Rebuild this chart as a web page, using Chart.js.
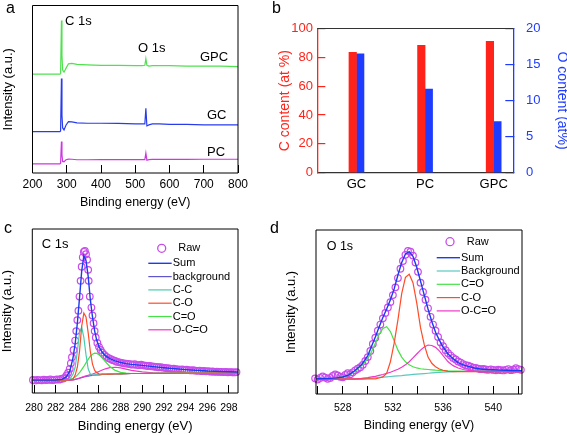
<!DOCTYPE html>
<html>
<head>
<meta charset="utf-8">
<script src="https://cdn.jsdelivr.net/npm/chart.js@4.4.1/dist/chart.umd.min.js"></script>
<style>
  html, body { margin: 0; padding: 0; background: #fff; }
  #fig { position: relative; width: 567px; height: 435px; overflow: hidden; font-family: "Liberation Sans", Arial, sans-serif; }
  #fig canvas { position: absolute; }
  .tag { position: absolute; font-size: 16px; line-height: 16px; color: #000; }
</style>
</head>
<body>
<div id="fig">
  <canvas id="survey" width="283" height="215" style="left:0px;top:0px"></canvas>
  <canvas id="content" width="291" height="215" style="left:276px;top:0px"></canvas>
  <canvas id="c1s" width="283" height="220" style="left:0px;top:215px"></canvas>
  <canvas id="o1s" width="291" height="220" style="left:276px;top:215px"></canvas>
  <div class="tag" style="left:6px;top:0px">a</div>
  <div class="tag" style="left:272px;top:0px">b</div>
  <div class="tag" style="left:4px;top:220px">c</div>
  <div class="tag" style="left:270px;top:220px">d</div>
</div>
<script>
const FONT = '"Liberation Sans", Arial, sans-serif';

// ---- a: survey spectra ----
const surveyEnergy = [200, 240, 280, 282, 284.5, 286, 288, 292, 298, 305, 315, 330, 360, 400, 450, 500, 520, 528, 531, 534, 540, 550, 570, 600, 650, 700, 750, 800];
const surveyGPC = [59.0, 59.0, 59.0, 59.3, 91.1, 70.3, 61.4, 60.2, 62.6, 65.2, 65.5, 64.9, 64.6, 64.3, 64.3, 64.1, 64.1, 64.3, 68.3, 64.3, 63.8, 64.1, 64.1, 64.1, 63.8, 63.8, 63.8, 63.5];
const surveyGC = [24.7, 24.7, 24.7, 25.1, 56.4, 34.6, 26.9, 25.7, 28.7, 30.7, 30.5, 29.9, 29.7, 29.7, 29.6, 29.3, 29.3, 29.3, 38.6, 28.1, 28.7, 29.3, 29.3, 29.0, 29.0, 28.7, 28.7, 28.7];
const surveyPC = [5.5, 5.5, 5.5, 5.8, 18.8, 10.9, 6.9, 6.7, 7.9, 8.3, 8.2, 7.9, 7.9, 8.0, 8.0, 8.0, 8.0, 8.0, 11.9, 7.6, 8.0, 8.1, 8.1, 8.1, 8.1, 8.2, 8.2, 8.2];
const surveyTicks = [200, 300, 400, 500, 600, 700, 800];

// ---- b: element content ----
const samples = ['GC', 'PC', 'GPC'];
const carbonContent = [83.5, 88.3, 91.1];
const oxygenContent = [16.5, 11.6, 7.1];

// ---- c: C 1s fit ----
const c1sTicks = [280, 282, 284, 286, 288, 290, 292, 294, 296, 298];
const c1sFitE = [279.9, 281, 282, 282.6, 283.0, 283.3, 283.6, 283.8, 284.0, 284.2, 284.4, 284.6, 284.8, 285.0, 285.2, 285.4, 285.6, 285.8, 286.0, 286.3, 286.6, 287.0, 287.5, 288.0, 288.5, 289.0, 290, 291, 292, 294, 296, 298.8];
const c1sSum = [3.8, 3.8, 3.9, 4.3, 6.0, 9.5, 18, 27, 40, 56, 73, 83, 80, 70, 55, 44, 35, 29, 25, 21.5, 19.2, 17.5, 16, 15, 14.3, 13.8, 13.2, 12.4, 11.7, 10.5, 9.6, 9.0];
const c1sBackground = [3.8, 3.8, 3.8, 3.8, 3.8, 3.8, 4.0, 4.3, 4.6, 5.0, 5.4, 5.8, 6.1, 6.4, 6.6, 6.8, 7.0, 7.1, 7.2, 7.4, 7.5, 7.6, 7.7, 7.8, 7.9, 8.0, 8.0, 8.1, 8.1, 8.2, 8.3, 8.4];
const c1sCC = [3.8, 3.8, 3.8, 3.8, 3.9, 4.4, 7.5, 12, 22, 34, 37.5, 31, 20, 11, 7.6, 6.9, 7.0, 7.1, 7.2, 7.4, 7.5, 7.6, 7.7, 7.8, 7.9, 8.0, 8.0, 8.1, 8.1, 8.2, 8.3, 8.4];
const c1sCO = [3.8, 3.8, 3.8, 3.8, 3.8, 3.9, 4.5, 7, 12, 22, 38, 46.5, 44, 34, 22, 14, 10, 8.5, 7.8, 7.6, 7.6, 7.6, 7.7, 7.8, 7.9, 8.0, 8.0, 8.1, 8.1, 8.2, 8.3, 8.4];
const c1sCdO = [3.8, 3.8, 3.8, 3.8, 3.9, 4.2, 5.0, 5.8, 7.0, 8.5, 10.5, 12.5, 14.8, 17, 19, 20.3, 21, 20.8, 20, 18, 15.5, 12.5, 10, 8.7, 8.2, 8.0, 8.0, 8.1, 8.1, 8.2, 8.3, 8.4];
const c1sOCdO = [3.8, 3.8, 3.8, 3.8, 3.8, 3.8, 4.0, 4.3, 4.7, 5.1, 5.6, 6.0, 6.5, 6.9, 7.3, 7.7, 8.2, 8.7, 9.3, 10.2, 11, 11.7, 12, 11.6, 10.8, 10, 9, 8.5, 8.3, 8.2, 8.3, 8.4];
const c1sRaw = [
  [279.9, 3.9], [280.1, 3.6], [280.3, 4.0], [280.5, 3.8], [280.7, 3.7], [280.9, 4.1], [281.1, 3.8], [281.3, 3.9],
  [281.5, 4.2], [281.7, 3.8], [281.9, 4.0], [282.1, 4.3], [282.3, 4.1], [282.5, 4.5], [282.7, 4.9], [282.9, 5.6],
  [283.0, 6.8], [283.15, 8.5], [283.3, 11], [283.4, 14.5], [283.5, 18.4], [283.65, 23], [283.8, 29], [283.9, 35],
  [284.0, 42], [284.1, 48], [284.2, 57], [284.3, 67], [284.4, 76], [284.5, 82], [284.6, 85.5], [284.7, 86],
  [284.8, 84], [284.9, 80.5], [285.0, 74], [285.05, 67], [285.15, 57], [285.3, 50], [285.4, 45], [285.5, 40],
  [285.6, 35], [285.7, 31], [285.85, 27.5], [286.0, 25], [286.15, 23], [286.3, 21.3], [286.5, 19.8], [286.7, 18.6],
  [286.9, 17.8], [287.1, 17.1], [287.3, 16.5], [287.5, 16.0], [287.7, 15.4], [287.9, 15.1], [288.1, 14.8], [288.3, 14.5],
  [288.5, 14.3], [288.7, 14.2], [288.9, 13.9], [289.1, 13.6], [289.3, 13.9], [289.5, 13.5], [289.7, 13.3], [289.9, 13.6],
  [290.1, 13.2], [290.3, 13.0], [290.5, 12.8], [290.7, 12.9], [290.9, 12.5], [291.1, 12.4], [291.3, 12.2], [291.5, 12.0],
  [291.7, 12.1], [291.9, 11.7], [292.1, 11.6], [292.3, 11.4], [292.5, 11.3], [292.7, 11.0], [292.9, 11.1], [293.1, 10.8],
  [293.3, 10.7], [293.5, 10.5], [293.7, 10.6], [293.9, 10.3], [294.1, 10.4], [294.3, 10.1], [294.5, 10.0], [294.7, 10.2],
  [294.9, 9.8], [295.1, 9.7], [295.3, 9.9], [295.5, 9.5], [295.7, 9.6], [295.9, 9.4], [296.1, 9.5], [296.3, 9.2],
  [296.5, 9.3], [296.7, 9.1], [296.9, 9.2], [297.1, 9.0], [297.3, 9.1], [297.5, 8.9], [297.7, 9.0], [297.9, 8.8],
  [298.1, 8.9], [298.3, 8.8], [298.5, 8.7], [298.7, 8.9]
];

// ---- d: O 1s fit ----
const o1sTicks = [526, 528, 530, 532, 534, 536, 538, 540, 542];
const o1sFitE = [525.9, 526.5, 527, 527.5, 528, 528.5, 529, 529.5, 530, 530.3, 530.6, 530.9, 531.2, 531.5, 531.8, 532.1, 532.4, 532.7, 533.0, 533.3, 533.6, 533.9, 534.2, 534.5, 534.8, 535.1, 535.4, 535.7, 536.0, 536.4, 536.8, 537.2, 537.6, 538.0, 538.5, 539, 539.5, 540, 540.5, 541, 541.5, 542.3];
const o1sSum = [4.0, 4.1, 4.3, 4.6, 5.2, 6.5, 9.5, 13, 19, 25, 31, 37.5, 43.5, 49, 55, 62, 71, 79, 84.5, 86, 83, 76, 67, 58, 49, 41, 34, 29, 24.5, 20, 17, 14.5, 13, 12, 11, 10.3, 10, 9.8, 9.6, 9.5, 9.4, 9.3];
const o1sBackground = [4.0, 4.0, 4.0, 4.0, 4.0, 4.0, 4.0, 4.1, 4.3, 4.5, 4.7, 4.9, 5.1, 5.3, 5.5, 5.7, 5.9, 6.1, 6.4, 6.6, 6.8, 7.0, 7.2, 7.4, 7.6, 7.8, 8.0, 8.2, 8.3, 8.5, 8.6, 8.7, 8.8, 8.8, 8.9, 8.9, 8.9, 9.0, 9.0, 9.0, 9.0, 9.0];
const o1sCdO = [4.0, 4.1, 4.3, 4.6, 5.2, 6.3, 9.0, 12.5, 17, 21.5, 27, 32.5, 36.5, 37.6, 34.5, 28.5, 22.5, 18, 15, 13, 11.8, 11, 10.5, 10.2, 10, 9.8, 9.6, 9.5, 9.3, 9.1, 9.0, 8.9, 8.8, 8.8, 8.8, 8.8, 8.8, 8.8, 8.8, 8.8, 8.8, 8.8];
const o1sCO = [3.8, 3.8, 3.8, 3.8, 3.8, 3.8, 3.8, 3.8, 3.9, 3.9, 4.0, 4.5, 5.2, 7.5, 15, 27, 42, 59, 69.5, 71.5, 66, 53, 37, 26, 18, 14, 11.8, 10.3, 9.5, 8.8, 8.6, 8.6, 8.6, 8.6, 8.6, 8.6, 8.6, 8.6, 8.6, 8.6, 8.6, 8.6];
const o1sOCdO = [3.8, 3.8, 3.8, 3.8, 3.8, 3.9, 4.0, 4.3, 4.8, 5.2, 5.6, 6.2, 6.8, 7.5, 8.2, 9.2, 10.2, 11.5, 13, 15, 17.5, 20, 22.5, 24.5, 25.8, 25.5, 24.3, 22, 19, 15, 12.5, 11, 10, 9.5, 9.1, 8.9, 8.8, 8.8, 8.8, 8.8, 8.8, 8.8];
const o1sRaw = [
  [525.8, 4.3], [526.0, 3.5], [526.2, 4.6], [526.4, 5.5], [526.6, 4.8], [526.8, 4.0], [527.0, 4.6], [527.2, 5.8],
  [527.4, 6.8], [527.6, 6.2], [527.8, 5.3], [528.0, 5.0], [528.2, 6.5], [528.4, 7.6], [528.6, 7.0], [528.8, 8.2],
  [529.0, 9.5], [529.2, 10.5], [529.4, 11.5], [529.6, 13], [529.8, 15.5], [530.0, 18], [530.2, 22], [530.4, 26.5],
  [530.6, 30.5], [530.8, 35], [531.0, 39], [531.2, 43], [531.4, 46.5], [531.6, 50], [531.8, 53.5], [532.0, 58],
  [532.2, 63], [532.4, 69], [532.6, 75], [532.8, 80], [533.0, 84], [533.2, 86.5], [533.4, 86], [533.6, 83.5],
  [533.8, 79], [534.0, 73], [534.2, 66], [534.4, 60], [534.6, 55], [534.8, 49.5], [535.0, 44], [535.2, 39],
  [535.4, 35], [535.6, 31], [535.8, 27.5], [536.0, 25], [536.2, 22.5], [536.4, 20.5], [536.6, 19], [536.8, 17.5],
  [537.0, 16.5], [537.2, 15.2], [537.4, 14.5], [537.6, 13.5], [537.8, 12.8], [538.0, 12.5], [538.2, 11.8], [538.4, 11.2],
  [538.6, 11.0], [538.8, 10.6], [539.0, 10.2], [539.2, 10.4], [539.4, 10.0], [539.6, 9.8], [539.8, 10.1], [540.0, 9.7],
  [540.2, 9.5], [540.4, 9.9], [540.6, 9.6], [540.8, 9.4], [541.0, 9.8], [541.2, 10.3], [541.4, 9.6], [541.6, 9.9],
  [541.8, 10.8], [542.0, 10.2], [542.2, 9.8]
];

Chart.defaults.font.family = FONT;
Chart.defaults.color = '#000';

const RAW = 'rgb(200,75,235)';

function pts(xs, ys) {
  return xs.map((x, i) => ({ x: x, y: ys[i] }));
}

function line(label, xs, ys, color, order, width) {
  return {
    label: label, data: pts(xs, ys), showLine: true, borderColor: color,
    borderWidth: width || 1.2, pointRadius: 0, tension: 0, order: order
  };
}

function rawSet(pairs) {
  return {
    label: 'Raw', data: pairs.map(p => ({ x: p[0], y: p[1] })), showLine: false,
    pointRadius: 3.3, pointBorderWidth: 1.2, pointBorderColor: RAW,
    pointBackgroundColor: 'rgba(0,0,0,0)', borderColor: RAW, order: 20, clip: false
  };
}

function fixedTicks(values) {
  return function (scale) { scale.ticks = values.map(v => ({ value: v })); };
}

// box around the plot area, one colour per side
const frame = {
  id: 'frame',
  afterDatasetsDraw(chart, args, opts) {
    const a = chart.chartArea, ctx = chart.ctx;
    const sides = opts.sides || {};
    const seg = (c, x1, y1, x2, y2) => {
      if (!c) return;
      ctx.strokeStyle = c;
      ctx.beginPath(); ctx.moveTo(x1, y1); ctx.lineTo(x2, y2); ctx.stroke();
    };
    ctx.save();
    ctx.lineWidth = opts.width || 1;
    seg(sides.top, a.left, a.top, a.right, a.top);
    seg(sides.right, a.right, a.top, a.right, a.bottom);
    seg(sides.bottom, a.left, a.bottom, a.right, a.bottom);
    seg(sides.left, a.left, a.top, a.left, a.bottom);
    ctx.restore();
  }
};

// free text labels
const notes = {
  id: 'notes',
  afterDraw(chart, args, opts) {
    if (!opts.items) return;
    const ctx = chart.ctx;
    ctx.save();
    ctx.font = (opts.size || 13) + 'px ' + FONT;
    ctx.fillStyle = '#000';
    ctx.textAlign = 'left';
    ctx.textBaseline = 'middle';
    opts.items.forEach(t => ctx.fillText(t.text, t.x, t.y));
    ctx.restore();
  }
};

// legend list inside the plot
const fitLegend = {
  id: 'fitLegend',
  afterDraw(chart, args, opts) {
    if (opts.y0 === undefined) return;
    const ctx = chart.ctx;
    ctx.save();
    ctx.font = '11px ' + FONT;
    ctx.textAlign = 'left';
    ctx.textBaseline = 'middle';
    let y = opts.y0;
    chart.data.datasets.forEach((ds, i) => {
      ctx.fillStyle = '#000';
      if (ds.showLine) {
        ctx.strokeStyle = ds.borderColor;
        ctx.lineWidth = ds.borderWidth;
        ctx.beginPath(); ctx.moveTo(opts.lineX, y); ctx.lineTo(opts.lineX + opts.lineLen, y); ctx.stroke();
        ctx.fillText(ds.label, opts.lineX + opts.lineLen + 1, y);
      } else {
        ctx.strokeStyle = ds.pointBorderColor;
        ctx.lineWidth = 1.3;
        ctx.beginPath(); ctx.arc(opts.markX, y, 4, 0, Math.PI * 2); ctx.stroke();
        ctx.fillText(ds.label, opts.markTextX, y);
      }
      y += i === 0 ? opts.firstGap : opts.rowGap;
    });
    ctx.restore();
  }
};

function energyAxis(min, max, ticks, labelFn, h, tickPad, tickSize, titleSize, titlePad) {
  return {
    type: 'linear', min: min, max: max,
    afterBuildTicks: fixedTicks(ticks),
    afterFit: s => { s.height = h; },
    grid: { drawOnChartArea: false, drawTicks: true, tickLength: -8, color: '#000', lineWidth: 1 },
    border: { display: false },
    ticks: { padding: tickPad, font: { size: tickSize }, autoSkip: false, maxRotation: 0, callback: labelFn },
    title: { display: true, text: 'Binding energy (eV)', font: { size: titleSize }, padding: { top: 0, bottom: titlePad } }
  };
}

function intensityAxis(min, w, pad, lh) {
  return {
    min: min, max: 100,
    afterFit: s => { s.width = w; },
    ticks: { display: false },
    grid: { display: false, drawTicks: false },
    border: { display: false },
    title: { display: true, text: 'Intensity (a.u.)', font: { size: 13, lineHeight: lh }, padding: { top: pad, bottom: 0 } }
  };
}

const BOX = { sides: { top: '#000', right: '#000', bottom: '#000', left: '#000' } };

// ---- panel a ----
new Chart(document.getElementById('survey'), {
  type: 'scatter',
  data: {
    datasets: [
      line('GPC', surveyEnergy, surveyGPC, 'rgb(80,225,80)', 0, 1.2),
      line('GC', surveyEnergy, surveyGC, 'rgb(40,60,235)', 1, 1.2),
      line('PC', surveyEnergy, surveyPC, 'rgb(205,55,225)', 2, 1.2)
    ]
  },
  options: {
    responsive: false, animation: false, events: [],
    layout: { padding: { top: 5.5, right: 45, left: 0, bottom: 0 } },
    scales: {
      x: energyAxis(200, 800, surveyTicks, v => v, 42, 12.6, 12, 12.5, 4.5),
      y: intensityAxis(0, 32.5, 0.2, 1.2)
    },
    plugins: {
      legend: { display: false }, tooltip: { enabled: false },
      frame: BOX,
      notes: {
        size: 13,
        items: [
          { text: 'C 1s', x: 65, y: 21.5 },
          { text: 'O 1s', x: 138, y: 48 },
          { text: 'GPC', x: 200, y: 57 },
          { text: 'GC', x: 207, y: 115 },
          { text: 'PC', x: 207, y: 152 }
        ]
      }
    }
  },
  plugins: [frame, notes]
});

// ---- panel b ----
const RED = 'rgb(255,35,25)';
const BLUE = 'rgb(30,60,255)';
new Chart(document.getElementById('content'), {
  type: 'bar',
  data: {
    datasets: [
      { label: 'C', data: pts(samples.map((s, i) => i), carbonContent), yAxisID: 'yC', backgroundColor: RED, barThickness: 7.5 },
      { label: 'O', data: pts(samples.map((s, i) => i), oxygenContent), yAxisID: 'yO', backgroundColor: BLUE, barThickness: 7.5 }
    ]
  },
  options: {
    responsive: false, animation: false, events: [],
    layout: { padding: { top: 7.3, right: 0, left: 0, bottom: 0 } },
    scales: {
      x: {
        type: 'linear', min: -0.571, max: 2.286, offset: false,
        afterBuildTicks: fixedTicks(samples.map((s, i) => i)),
        afterFit: s => { s.height = 42.3; },
        grid: { display: false, drawTicks: false, offset: false },
        border: { display: true, color: '#333', width: 1.2 },
        ticks: { padding: 3.5, font: { size: 13 }, callback: v => samples[v] }
      },
      yC: {
        position: 'left', min: 0, max: 100,
        afterFit: s => { s.width = 41.3; },
        ticks: { stepSize: 20, color: RED, font: { size: 13 }, padding: 12.3 },
        grid: { drawOnChartArea: false, tickLength: -8, color: RED, lineWidth: 1.2 },
        border: { color: RED, width: 1.3 },
        title: { display: true, text: 'C content (at %)', color: RED, font: { size: 14 }, padding: { top: 1.1, bottom: 0 } }
      },
      yO: {
        position: 'right', min: 0, max: 20,
        afterFit: s => { s.width = 53.7; },
        ticks: { stepSize: 5, color: BLUE, font: { size: 13 }, padding: 20.7 },
        grid: { drawOnChartArea: false, tickLength: -8, color: BLUE, lineWidth: 1.2 },
        border: { color: BLUE, width: 1.3 },
        title: { display: true, text: 'O content (at%)', color: BLUE, font: { size: 14, lineHeight: 0.76 }, padding: 0 }
      }
    },
    plugins: {
      legend: { display: false }, tooltip: { enabled: false },
      frame: { width: 1.2, sides: { top: '#333' } }
    }
  },
  plugins: [frame]
});

// ---- panel c ----
new Chart(document.getElementById('c1s'), {
  type: 'scatter',
  data: {
    datasets: [
      rawSet(c1sRaw),
      line('Sum', c1sFitE, c1sSum, 'rgb(25,60,240)', 0, 1.4),
      line('background', c1sFitE, c1sBackground, 'rgb(95,85,205)', 6, 1.2),
      line('C-C', c1sFitE, c1sCC, 'rgb(70,205,175)', 2, 1.2),
      line('C-O', c1sFitE, c1sCO, 'rgb(255,75,40)', 1, 1.2),
      line('C=O', c1sFitE, c1sCdO, 'rgb(70,225,70)', 3, 1.2),
      line('O-C=O', c1sFitE, c1sOCdO, 'rgb(240,55,200)', 4, 1.2)
    ]
  },
  options: {
    responsive: false, animation: false, events: [],
    layout: { padding: { top: 14, right: 45, left: 0, bottom: 0 } },
    scales: {
      x: energyAxis(279.84, 298.84, c1sTicks, v => v, 42, 16.7, 10.5, 13, 1.2),
      y: intensityAxis(-4.4, 32.3, 0, 1.1)
    },
    plugins: {
      legend: { display: false }, tooltip: { enabled: false },
      frame: BOX,
      notes: { size: 13, items: [{ text: 'C 1s', x: 41.7, y: 29.3 }] },
      fitLegend: { y0: 33.3, firstGap: 15, rowGap: 13.3, lineX: 148.3, lineLen: 23.4, markX: 161.7, markTextX: 178.3 }
    }
  },
  plugins: [frame, notes, fitLegend]
});

// ---- panel d ----
new Chart(document.getElementById('o1s'), {
  type: 'scatter',
  data: {
    datasets: [
      rawSet(o1sRaw),
      line('Sum', o1sFitE, o1sSum, 'rgb(25,60,240)', 0, 1.4),
      line('Background', o1sFitE, o1sBackground, 'rgb(90,200,190)', 6, 1.2),
      line('C=O', o1sFitE, o1sCdO, 'rgb(70,225,70)', 3, 1.2),
      line('C-O', o1sFitE, o1sCO, 'rgb(255,75,40)', 1, 1.2),
      line('O-C=O', o1sFitE, o1sOCdO, 'rgb(240,55,200)', 2, 1.2)
    ]
  },
  options: {
    responsive: false, animation: false, events: [],
    layout: { padding: { top: 15, right: 45, left: 0, bottom: 0 } },
    scales: {
      x: energyAxis(525.87, 542.29, o1sTicks, v => (v % 4 === 0 ? v : ''), 41, 15.7, 10.5, 12.5, 1.5),
      y: intensityAxis(-5.8, 40, 7.9, 1.2)
    },
    plugins: {
      legend: { display: false }, tooltip: { enabled: false },
      frame: BOX,
      notes: { size: 12.5, items: [{ text: 'O 1s', x: 50.7, y: 31.7 }] },
      fitLegend: { y0: 26.7, firstGap: 16, rowGap: 13.3, lineX: 160.7, lineLen: 23.3, markX: 174, markTextX: 190.7 }
    }
  },
  plugins: [frame, notes, fitLegend]
});
</script>
</body>
</html>
